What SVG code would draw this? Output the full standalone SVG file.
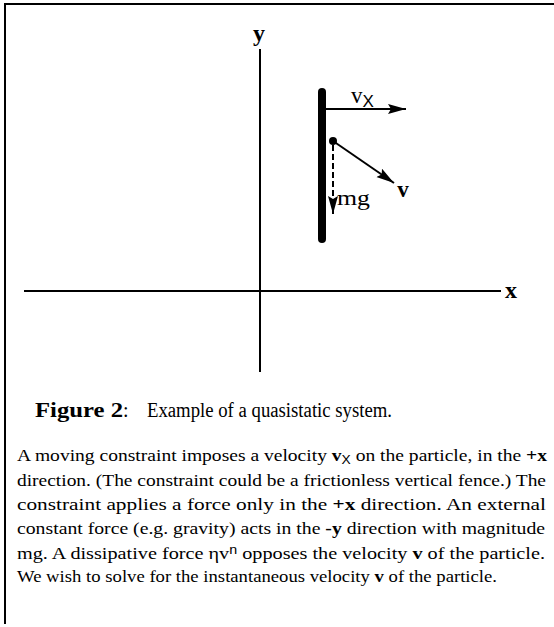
<svg xmlns="http://www.w3.org/2000/svg" width="554" height="627" viewBox="0 0 554 627">
<defs>
<style>
.ln{stroke:#000;stroke-width:2;fill:none}
.t{font-family:"Liberation Serif","Times New Roman",serif;fill:#000}
.b{font-weight:bold}
.p{font-size:17px}
</style>
<marker id="ah" markerUnits="userSpaceOnUse" markerWidth="20" markerHeight="12" refX="18" refY="5" orient="auto">
<path d="M0,0 L18,5 L0,10 L3,5 Z" fill="#000"/>
</marker>
</defs>
<rect width="554" height="627" fill="#fff"/>
<g id="frame">
<path class="ln" d="M5,624 V4 H554"/>
</g>
<g id="axes">
<line class="ln" x1="24" y1="291" x2="501" y2="291"/>
<line class="ln" x1="260" y1="49" x2="260" y2="372"/>
<text class="t b" x="259" y="41" font-size="24" text-anchor="middle">y</text>
<text class="t b" x="511" y="298" font-size="24" text-anchor="middle">x</text>
</g>
<g id="fence">
<rect x="318" y="88" width="8" height="155" rx="4" fill="#000"/>
</g>
<g id="connectors">
<line class="ln" x1="326" y1="109" x2="406" y2="109" marker-end="url(#ah)" stroke-width="2"/>
<line class="ln" x1="333" y1="141" x2="394" y2="183" marker-end="url(#ah)" stroke-width="2"/>
<line class="ln" x1="333" y1="145" x2="333" y2="214" stroke-dasharray="6,3" marker-end="url(#ah)" stroke-width="2"/>
</g>
<g id="particle">
<circle cx="333" cy="141" r="4" fill="#000"/>
</g>
<g id="labels">
<text class="t" x="351" y="103" font-size="23">v<tspan font-size="17" dy="4" font-family="Liberation Sans, Arial, sans-serif">X</tspan></text>
<text class="t b" x="403" y="197" font-size="23" text-anchor="middle">v</text>
<text class="t" x="337" y="205" font-size="22" textLength="33" lengthAdjust="spacingAndGlyphs">mg</text>
</g>
<g id="caption">
<text class="t" x="35" y="417" font-size="20"><tspan class="b" font-size="22" textLength="88" lengthAdjust="spacingAndGlyphs">Figure 2</tspan><tspan>:</tspan><tspan x="147" textLength="245" lengthAdjust="spacingAndGlyphs">Example of a quasistatic system.</tspan></text>
</g>
<g id="paragraph">
<text class="t p" x="17" y="461" textLength="530" lengthAdjust="spacingAndGlyphs">A moving constraint imposes a velocity <tspan class="b">v</tspan><tspan font-size="12" dy="3" font-family="Liberation Sans, Arial, sans-serif">X</tspan><tspan dy="-3"> on the particle, in the   </tspan><tspan class="b">+x</tspan></text>
<text class="t p" x="17" y="486" textLength="529" lengthAdjust="spacingAndGlyphs">direction.  (The constraint could be a frictionless vertical fence.)  The</text>
<text class="t p" x="17" y="510" textLength="529" lengthAdjust="spacingAndGlyphs">constraint applies a force only in the <tspan class="b">+x</tspan> direction.   An external</text>
<text class="t p" x="17" y="534" textLength="528" lengthAdjust="spacingAndGlyphs">constant force (e.g. gravity) acts in the <tspan class="b">-y</tspan> direction with magnitude</text>
<text class="t p" x="17" y="559" textLength="528" lengthAdjust="spacingAndGlyphs">mg.  A dissipative force ηv<tspan font-size="12" dy="-5" font-family="Liberation Sans, Arial, sans-serif">n</tspan><tspan dy="5">  opposes the velocity </tspan><tspan class="b">v</tspan> of the particle.</text>
<text class="t p" x="17" y="582" textLength="480" lengthAdjust="spacingAndGlyphs">We wish to solve for the instantaneous velocity <tspan class="b">v</tspan> of the particle.</text>
</g>
</svg>
